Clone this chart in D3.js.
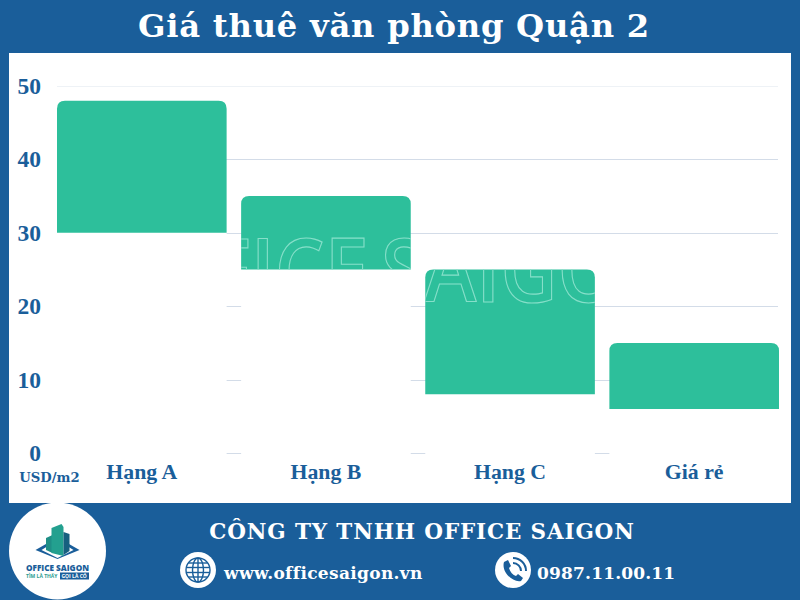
<!DOCTYPE html>
<html><head><meta charset="utf-8">
<script src="https://cdnjs.cloudflare.com/ajax/libs/d3/7.8.5/d3.min.js"></script>
<style>html,body{margin:0;padding:0;background:#1a5e9a}svg{display:block}</style>
</head><body><svg id="c" width="800" height="600"></svg>
<script>
const categories=["Hạng A","Hạng B","Hạng C","Giá rẻ"];
const lowValues=[30,25,8,6];
const highValues=[48,35,25,15];
const yTicks=[0,10,20,30,40,50];
const unitLabel="USD/m2";
const titleText="Giá thuê văn phòng Quận 2";
const companyText="CÔNG TY TNHH OFFICE SAIGON";
const webText="www.officesaigon.vn";
const phoneText="0987.11.00.11";
const watermarkText="OFFICE SAIGON";

const SERIF="'DejaVu Serif',serif", TIMES="'Liberation Serif',serif";
const BLUE="#1a5e9a",GREEN="#2dbf9b",GRID="#d3dce8";
const svg=d3.select("#c");
svg.append("rect").attr("width",800).attr("height",600).attr("fill",BLUE);
svg.append("rect").attr("x",9).attr("y",53).attr("width",782).attr("height",450).attr("fill","#fff");

svg.append("text").attr("x",394).attr("y",37).attr("text-anchor","middle").attr("letter-spacing",.75)
  .attr("font-family",SERIF).attr("font-weight",700).attr("font-size",32.2).attr("fill","#fff").text(titleText);

const x=d3.scaleBand().domain(categories).range([50,786]).paddingInner(14.5/184).paddingOuter(7/184);
const y=d3.scaleLinear().domain([0,50]).range([453,86]);

// grid
svg.append("g").attr("class","grid").selectAll("line").data(yTicks).join("line")
  .attr("x1",57).attr("x2",778).attr("y1",d=>Math.round(y(d))+.5).attr("y2",d=>Math.round(y(d))+.5)
  .attr("stroke",d=>d===50?"#eef2f6":GRID).attr("stroke-width",1);

// y labels
svg.append("g").selectAll("text").data(yTicks).join("text")
  .attr("x",41).attr("y",d=>y(d)+8).attr("text-anchor","end")
  .attr("font-family",TIMES).attr("font-weight",700).attr("font-size",23.5).attr("fill",BLUE).text(d=>d);
svg.append("text").attr("x",49.5).attr("y",482).attr("text-anchor","middle")
  .attr("font-family",SERIF).attr("font-weight",700).attr("font-size",13.2).attr("fill",BLUE).text(unitLabel);

// white base masks
const rows=categories.map((c,i)=>({c,lo:lowValues[i],hi:highValues[i]}));
svg.append("g").selectAll("rect").data(rows).join("rect")
  .attr("x",d=>x(d.c)).attr("width",x.bandwidth()).attr("y",d=>y(d.lo)).attr("height",d=>y(0)-y(d.lo)+1.5).attr("fill","#fff");

const barPath=d=>{const r=8,l=x(d.c),w=x.bandwidth(),t=y(d.hi),b=y(d.lo);
  const p=d3.path();p.moveTo(l,b);p.lineTo(l,t+r);p.quadraticCurveTo(l,t,l+r,t);p.lineTo(l+w-r,t);p.quadraticCurveTo(l+w,t,l+w,t+r);p.lineTo(l+w,b);p.closePath();return p.toString();};
const defs=svg.append("defs");
defs.append("clipPath").attr("id","barclip").selectAll("path").data(rows).join("path").attr("d",barPath);
svg.append("g").selectAll("path").data(rows).join("path").attr("d",barPath).attr("fill",GREEN);

// watermark
svg.append("g").attr("clip-path","url(#barclip)").append("text").attr("transform","translate(393,302) scale(.895,1)").attr("text-anchor","middle")
  .attr("font-family","'Open Sans',sans-serif").attr("font-weight",600).attr("font-size",88).attr("word-spacing",-9)
  .attr("fill","none").attr("stroke","#86dfc9").attr("stroke-width",1.2).text(watermarkText);

// x labels
svg.append("g").selectAll("text").data(categories).join("text")
  .attr("x",d=>x(d)+x.bandwidth()/2).attr("y",479).attr("text-anchor","middle")
  .attr("font-family",TIMES).attr("font-weight",700).attr("font-size",21.8).attr("fill",BLUE).text(d=>d);

// footer
svg.append("text").attr("x",422).attr("y",539).attr("text-anchor","middle").attr("letter-spacing",.85)
  .attr("font-family",SERIF).attr("font-weight",700).attr("font-size",21.5).attr("fill","#fff").text(companyText);
svg.append("text").attr("x",224).attr("y",579).attr("letter-spacing",.33).attr("font-family",SERIF).attr("font-weight",700).attr("font-size",17).attr("fill","#fff").text(webText);
svg.append("text").attr("x",537).attr("y",579).attr("letter-spacing",.18).attr("font-family",SERIF).attr("font-weight",700).attr("font-size",17).attr("fill","#fff").text(phoneText);

// globe icon
const g=svg.append("g").attr("transform","translate(198,570)");
g.append("circle").attr("r",18).attr("fill","#fff");
const gg=g.append("g").attr("fill","none").attr("stroke",BLUE).attr("stroke-width",1.4);
gg.append("circle").attr("r",12);
gg.append("ellipse").attr("rx",5.5).attr("ry",12);
gg.append("line").attr("y1",-12).attr("y2",12);
[-7,-2.5,2.5,7].forEach(v=>gg.append("line").attr("x1",-Math.sqrt(144-v*v)).attr("x2",Math.sqrt(144-v*v)).attr("y1",v).attr("y2",v));

// phone icon
const ph=svg.append("g").attr("transform","translate(513,570)");
ph.append("circle").attr("r",18).attr("fill","#fff");
ph.append("path").attr("d","M-9,-8 L-5,-10 L-2,-4 L-4,-2 C-3,2 0,5 3,6 L5,4 L10,8 L8,11 C0,13 -12,2 -9,-8Z").attr("fill",BLUE);
ph.append("path").attr("d","M0,-7 A8,8 0 0 1 8,1 M0,-12 A13,13 0 0 1 13,1").attr("fill","none").attr("stroke",BLUE).attr("stroke-width",2);

// logo
const lg=svg.append("g").attr("transform","translate(57.5,551)");
lg.append("circle").attr("r",48.5).attr("fill","#fff");
lg.append("path").attr("d","M-22,-1 L-8,-9 L-8,-6 L-16,-1 L0,7 L16,-1 L8,-6 L8,-9 L22,-1 L0,8Z").attr("fill",BLUE);
lg.append("path").attr("d","M-11.5,-13 L-5,-16 L-5,2 L-11.5,-1Z").attr("fill","#1f8f86");
lg.append("path").attr("d","M-6,-23 L4,-27 L6,-24 L6,5 L-6,2Z").attr("fill","#23a08f");
lg.append("path").attr("d","M6,-19 L12,-17 L12,0 L6,4Z").attr("fill","#17607f");
lg.append("text").attr("y",20).attr("text-anchor","middle").attr("font-family","'Open Sans',sans-serif").attr("font-weight",800).attr("font-size",8.2).attr("fill",BLUE).text("OFFICE SAIGON");
lg.append("text").attr("x",-31.5).attr("y",27).attr("font-family","'Open Sans',sans-serif").attr("font-weight",700).attr("font-size",5).attr("fill","#2a9d8f").text("TÌM LÀ THẤY");
lg.append("rect").attr("x",2.5).attr("y",21.5).attr("width",29).attr("height",7).attr("fill",BLUE);
lg.append("text").attr("x",4).attr("y",27).attr("font-family","'Open Sans',sans-serif").attr("font-weight",700).attr("font-size",5).attr("fill","#fff").text("GỌI LÀ CÓ");
</script></body></html>
